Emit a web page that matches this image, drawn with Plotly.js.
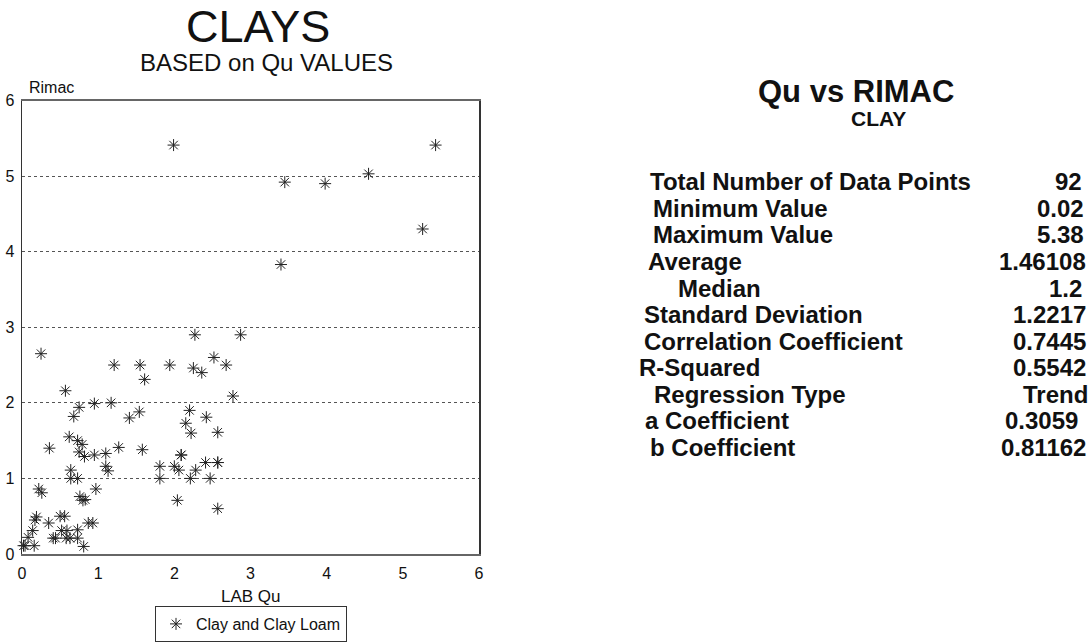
<!DOCTYPE html>
<html><head><meta charset="utf-8">
<script src="https://cdn.plot.ly/plotly-3.0.1.min.js"></script>
<style>html,body{margin:0;padding:0;background:#fff}#chart{width:1092px;height:644px}</style>
</head><body><div id="chart"></div>
<script>
// LAB Qu (x) and Rimac (y) values
const labQu = [0.25,0.57,0.75,0.68,0.95,1.17,1.21,1.55,1.61,1.94,1.41,1.54,
  0.36,0.62,0.73,0.79,0.75,0.82,0.95,1.10,1.27,1.58,0.64,0.64,0.73,1.10,1.13,
  0.22,0.26,0.97,0.76,0.83,0.80,0.19,0.17,0.35,0.50,0.56,0.14,0.08,0.02,0.04,
  0.16,0.41,0.44,0.52,0.59,0.73,0.58,0.63,0.73,0.81,0.87,0.93,
  1.81,1.81,2.00,2.06,2.09,2.09,2.04,2.20,2.15,2.22,2.27,2.25,2.36,2.52,2.68,2.77,
  2.87,2.42,2.57,2.21,2.28,2.41,2.57,2.57,2.47,2.57,
  1.99,3.45,3.98,4.55,5.43,5.26,3.40];
const rimac = [2.65,2.16,1.94,1.82,1.99,2.00,2.50,2.50,2.31,2.50,1.80,1.88,
  1.40,1.55,1.50,1.45,1.35,1.29,1.31,1.33,1.41,1.38,1.11,1.00,1.00,1.16,1.10,
  0.86,0.81,0.86,0.76,0.72,0.71,0.49,0.45,0.41,0.50,0.50,0.31,0.22,0.11,0.11,
  0.11,0.21,0.21,0.31,0.31,0.32,0.21,0.21,0.21,0.10,0.41,0.41,
  1.16,1.00,1.16,1.11,1.31,1.31,0.71,1.90,1.73,1.60,2.90,2.46,2.40,2.60,2.50,2.09,
  2.90,1.81,1.61,1.00,1.11,1.21,1.21,1.21,1.00,0.60,
  5.41,4.92,4.90,5.03,5.41,4.30,3.83];
const seriesName = "Clay and Clay Loam";
const yTicks = [0,1,2,3,4,5,6];
const xTicks = [0,1,2,3,4,5,6];
const statLabels = ["Total Number of Data Points","Minimum Value","Maximum Value","Average",
  "Median","Standard Deviation","Correlation Coefficient","R-Squared","Regression Type",
  "a Coefficient","b Coefficient"];
const statValues = ["92","0.02","5.38","1.46108","1.2","1.2217","0.7445","0.5542","Trend",
  "0.3059","0.81162"];

// layout helpers (pixel positions -> paper)
const W = 1092, H = 644;
const px = x => x / W, py = y => 1 - y / H;
const labelLeft = [648,651,651,646,676,642,642,637,652,643,648];
const valueRight = [1084,1086,1086,1088,1084,1088,1088,1088,1090,1080,1088];
const rowTop = 182, rowStep = 26.5;

const F = "Liberation Sans, Arial, Helvetica, sans-serif";
const ann = [];
ann.push({text:"CLAYS", x:px(258), y:py(27), xref:"paper", yref:"paper", showarrow:false,
  xanchor:"center", yanchor:"middle", font:{family:F, size:45, color:"#111"}});
ann.push({text:"BASED on Qu VALUES", x:px(266), y:py(62), xref:"paper", yref:"paper", showarrow:false,
  xanchor:"center", yanchor:"middle", font:{family:F, size:24, color:"#111"}});
ann.push({text:"Rimac", x:px(27), y:py(87), xref:"paper", yref:"paper", showarrow:false,
  xanchor:"left", yanchor:"middle", font:{family:F, size:16, color:"#111"}});
ann.push({text:"LAB Qu", x:px(251), y:py(596), xref:"paper", yref:"paper", showarrow:false,
  xanchor:"center", yanchor:"middle", font:{family:F, size:17, color:"#111"}});
ann.push({text:"Qu vs RIMAC", x:px(856), y:py(92), xref:"paper", yref:"paper", showarrow:false,
  xanchor:"center", yanchor:"middle", font:{family:F, size:31, color:"#111", weight:"bold"}});
ann.push({text:"CLAY", x:px(878), y:py(119), xref:"paper", yref:"paper", showarrow:false,
  xanchor:"center", yanchor:"middle", font:{family:F, size:21, color:"#111", weight:"bold"}});
statLabels.forEach((t,i)=>{
  const y = rowTop + i*rowStep;
  ann.push({text:t, x:px(labelLeft[i]), y:py(y), xref:"paper", yref:"paper", showarrow:false,
    xanchor:"left", yanchor:"middle", font:{family:F, size:24, color:"#111", weight:"bold"}});
  ann.push({text:statValues[i], x:px(valueRight[i]), y:py(y), xref:"paper", yref:"paper", showarrow:false,
    xanchor:"right", yanchor:"middle", font:{family:F, size:24, color:"#111", weight:"bold"}});
});

const trace = {
  x: labQu, y: rimac, type:"scatter", mode:"markers", name: seriesName,
  marker:{symbol:"asterisk-open", size:10, color:"#222", line:{color:"#222", width:1}},
  hoverinfo:"x+y", showlegend:true, cliponaxis:false
};

const layout = {
  width:W, height:H, margin:{l:0,r:0,t:0,b:0, autoexpand:false},
  paper_bgcolor:"#fff", plot_bgcolor:"#fff", showlegend:true,
  legend:{x:px(251), xanchor:"center", y:py(642), yanchor:"bottom", orientation:"h",
    bordercolor:"#333", borderwidth:1, bgcolor:"#fff", itemwidth:30,
    font:{family:F, size:16, color:"#111"}, tracegroupgap:0},
  xaxis:{domain:[px(22), px(479)], range:[0,6], tickvals:xTicks, ticks:"", showgrid:false,
    zeroline:false, showline:true, linecolor:"#666", linewidth:2, mirror:true,
    tickfont:{family:F, size:16, color:"#111"}, ticklabelstandoff:4, automargin:false},
  yaxis:{domain:[py(554), py(100.5)], range:[0,6], tickvals:yTicks, ticks:"",
    showgrid:true, gridcolor:"#555", griddash:"dot", gridwidth:1,
    zeroline:false, showline:true, linecolor:"#333", linewidth:1.5, mirror:true,
    tickfont:{family:F, size:16, color:"#111"}, ticklabelstandoff:3, automargin:false},
  annotations: ann
};
Plotly.newPlot("chart", [trace], layout, {displayModeBar:false, staticPlot:true});
</script>
</body></html>
